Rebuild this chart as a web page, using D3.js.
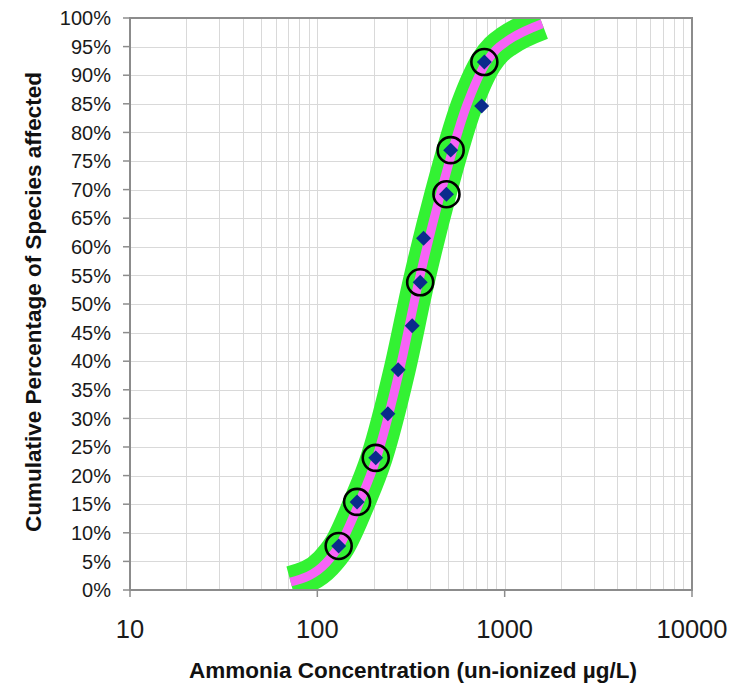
<!DOCTYPE html>
<html>
<head>
<meta charset="utf-8">
<script src="https://cdn.jsdelivr.net/npm/d3@7"></script>
<style>
  body { margin: 0; background: #fff; }
  svg { display: block; font-family: "Liberation Sans", Arial, sans-serif; }
</style>
</head>
<body>
<svg id="chart" width="745" height="684"></svg>
<script>
// observed species (concentration µg/L, cumulative %)
const speciesConc = [130, 163, 205, 238, 270, 321, 354, 369, 489, 515, 754, 779];
const speciesPct = [7.7, 15.4, 23.1, 30.8, 38.5, 46.2, 53.8, 61.5, 69.2, 76.9, 84.6, 92.3];
const circled = [true, true, true, false, false, false, true, false, true, true, false, true];

// fitted distribution curve
const curveConc = [72, 111, 131, 168, 207, 275, 347, 454, 625, 799, 903, 1033, 1587];
const curvePct = [1.4, 4.7, 7.7, 15.4, 23.1, 38.5, 53.8, 69.2, 84.6, 92.3, 94.5, 96.0, 99.0];

const xTicks = [10, 100, 1000, 10000];
const xTickLabels = ['10', '100', '1000', '10000'];
const yTicks = [0, 5, 10, 15, 20, 25, 30, 35, 40, 45, 50, 55, 60, 65, 70, 75, 80, 85, 90, 95, 100];
const yTickLabels = ['0%', '5%', '10%', '15%', '20%', '25%', '30%', '35%', '40%', '45%', '50%',
  '55%', '60%', '65%', '70%', '75%', '80%', '85%', '90%', '95%', '100%'];

const plotL = 130, plotR = 692, plotT = 18, plotB = 590;

const svg = d3.select('#chart');

const x = d3.scaleLog().domain([10, 10000]).range([plotL, plotR]);
const y = d3.scaleLinear().domain([0, 100]).range([plotB, plotT]);

svg.append('defs').append('clipPath').attr('id', 'plot')
  .append('rect')
  .attr('x', plotL).attr('y', plotT)
  .attr('width', plotR - plotL).attr('height', plotB - plotT);

// grid
const grid = svg.append('g').attr('stroke', '#d9d9d9').attr('stroke-width', 1);
grid.selectAll('.hg')
  .data(yTicks.filter(d => d > 0 && d < 100))
  .enter().append('line')
  .attr('x1', plotL).attr('x2', plotR)
  .attr('y1', d => Math.round(y(d)) + 0.5)
  .attr('y2', d => Math.round(y(d)) + 0.5);

grid.selectAll('.vg')
  .data(x.ticks().filter(d => d > 10 && d < 10000))
  .enter().append('line')
  .attr('y1', plotT).attr('y2', plotB)
  .attr('x1', d => Math.round(x(d)) + 0.5)
  .attr('x2', d => Math.round(x(d)) + 0.5);

// curve
const curve = curveConc.map((c, i) => [c, curvePct[i]]);
const line = d3.line()
  .x(d => x(d[0]))
  .y(d => y(d[1]))
  .curve(d3.curveMonotoneX);

const curveG = svg.append('g').attr('clip-path', 'url(#plot)');
curveG.append('path')
  .attr('d', line(curve))
  .attr('fill', 'none')
  .attr('stroke', '#33f233')
  .attr('stroke-width', 32);
curveG.append('path')
  .attr('d', line(curve))
  .attr('fill', 'none')
  .attr('stroke', '#f763f7')
  .attr('stroke-width', 9);

// points
const pts = speciesConc.map((c, i) => ({ c: c, p: speciesPct[i], ring: circled[i] }));
svg.append('g').selectAll('path')
  .data(pts)
  .enter().append('path')
  .attr('d', d3.symbol(d3.symbolSquare, 112))
  .attr('transform', d => `translate(${x(d.c)},${y(d.p)}) rotate(45)`)
  .attr('fill', '#0a2b8c');

svg.append('g').selectAll('circle')
  .data(pts.filter(d => d.ring))
  .enter().append('circle')
  .attr('cx', d => x(d.c))
  .attr('cy', d => y(d.p))
  .attr('r', 13)
  .attr('fill', 'none')
  .attr('stroke', '#000')
  .attr('stroke-width', 2.6);

// frame
svg.append('rect')
  .attr('x', plotL).attr('y', plotT)
  .attr('width', plotR - plotL).attr('height', plotB - plotT)
  .attr('fill', 'none')
  .attr('stroke', '#8c8c8c')
  .attr('stroke-width', 2);

// y axis
const yAxis = svg.append('g');
yAxis.selectAll('line')
  .data(yTicks)
  .enter().append('line')
  .attr('x1', plotL - 7).attr('x2', plotL)
  .attr('y1', d => y(d)).attr('y2', d => y(d))
  .attr('stroke', '#8c8c8c').attr('stroke-width', 1.5);
yAxis.selectAll('text')
  .data(yTicks)
  .enter().append('text')
  .attr('x', 111)
  .attr('y', d => y(d))
  .attr('dy', '0.36em')
  .attr('text-anchor', 'end')
  .attr('font-size', 20)
  .attr('fill', '#1a1a1a')
  .text((d, i) => yTickLabels[i]);

// x axis
const xAxis = svg.append('g');
xAxis.selectAll('line')
  .data(xTicks)
  .enter().append('line')
  .attr('x1', d => x(d)).attr('x2', d => x(d))
  .attr('y1', plotB).attr('y2', plotB + 7)
  .attr('stroke', '#8c8c8c').attr('stroke-width', 1.5);
xAxis.selectAll('text')
  .data(xTicks)
  .enter().append('text')
  .attr('x', d => x(d))
  .attr('y', 638)
  .attr('text-anchor', 'middle')
  .attr('font-size', 25.5)
  .attr('fill', '#1a1a1a')
  .text((d, i) => xTickLabels[i]);

// titles
svg.append('text')
  .attr('x', 413)
  .attr('y', 678)
  .attr('text-anchor', 'middle')
  .attr('font-size', 22.5)
  .attr('font-weight', 'bold')
  .attr('fill', '#111')
  .text('Ammonia Concentration (un-ionized µg/L)');

svg.append('text')
  .attr('transform', 'translate(41,302) rotate(-90)')
  .attr('text-anchor', 'middle')
  .attr('font-size', 22.5)
  .attr('font-weight', 'bold')
  .attr('fill', '#111')
  .text('Cumulative Percentage of Species affected');
</script>
</body>
</html>
